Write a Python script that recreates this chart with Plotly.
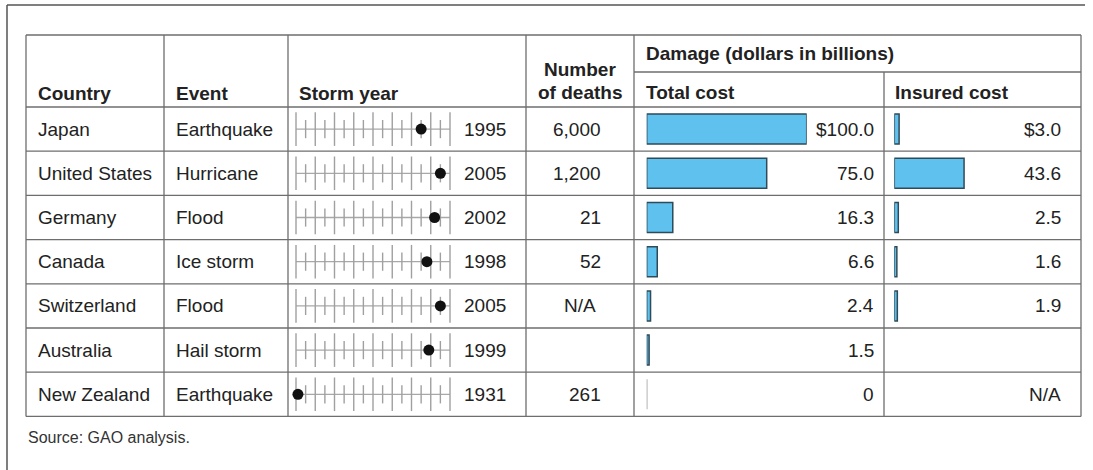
import plotly.graph_objects as go

# ---------------- data ----------------
countries = ["Japan", "United States", "Germany", "Canada", "Switzerland", "Australia", "New Zealand"]
events = ["Earthquake", "Hurricane", "Flood", "Ice storm", "Flood", "Hail storm", "Earthquake"]
storm_years = [1995, 2005, 2002, 1998, 2005, 1999, 1931]
deaths = ["6,000", "1,200", "21", "52", "N/A", "", "261"]
total_cost = [100.0, 75.0, 16.3, 6.6, 2.4, 1.5, 0.0]
insured_cost = [3.0, 43.6, 2.5, 1.6, 1.9, None, None]
total_labels = ["$100.0", "75.0", "16.3", "6.6", "2.4", "1.5", "0"]
insured_labels = ["$3.0", "43.6", "2.5", "1.6", "1.9", "", "N/A"]
year_major_ticks = [1930, 1940, 1950, 1960, 1970, 1980, 1990, 2000, 2010]
year_minor_ticks = [1935, 1945, 1955, 1965, 1975, 1985, 1995, 2005]
year_range = [1930, 2010]

header_cols = ["Country", "Event", "Storm year"]
source_text = "Source: GAO analysis."

# ---------------- layout helpers ----------------
W, H = 1093, 470
def px(x):
    return x / W
def py(y):
    return 1 - y / H

FONT = "Liberation Sans, Arial, Helvetica, sans-serif"
TXT = "#222222"
GRID = "#6e6e6e"
n = len(countries)
rows = list(range(n))

top_row, bot_row = 107, 416.4
row_h = (bot_row - top_row) / n

fig = go.Figure()

# storm-year mini axes
line_x, line_y = [], []
for r in rows:
    line_x += [year_range[0], year_range[1], None]
    line_y += [r, r, None]
fig.add_trace(go.Scatter(x=line_x, y=line_y, mode="lines", xaxis="x", yaxis="y",
                         line=dict(color="#a8a8a8", width=1.3), hoverinfo="skip", showlegend=False,
                         cliponaxis=False))
maj_x, maj_y, min_x, min_y = [], [], [], []
for r in rows:
    maj_x += year_major_ticks
    maj_y += [r] * len(year_major_ticks)
    min_x += year_minor_ticks
    min_y += [r] * len(year_minor_ticks)
fig.add_trace(go.Scatter(x=maj_x, y=maj_y, mode="markers", xaxis="x", yaxis="y", cliponaxis=False,
                         marker=dict(symbol="line-ns", size=24, line=dict(color="#a0a0a0", width=1.4)),
                         hoverinfo="skip", showlegend=False))
fig.add_trace(go.Scatter(x=min_x, y=min_y, mode="markers", xaxis="x", yaxis="y", cliponaxis=False,
                         marker=dict(symbol="line-ns", size=13, line=dict(color="#a0a0a0", width=1.4)),
                         hoverinfo="skip", showlegend=False))
fig.add_trace(go.Scatter(x=storm_years, y=rows, mode="markers", xaxis="x", yaxis="y", cliponaxis=False,
                         marker=dict(color="#111111", size=11), showlegend=False))

# bars
bar_w = 30 / row_h
fig.add_trace(go.Bar(x=total_cost, y=rows, orientation="h", xaxis="x2", yaxis="y", width=bar_w,
                     cliponaxis=False,
                     marker=dict(color="#5ec1ee",
                                 line=dict(color=["#9a9a9a" if v == 0 else "#2f4a58" for v in total_cost], width=1.5)),
                     showlegend=False))
fig.add_trace(go.Bar(x=insured_cost, y=rows, orientation="h", xaxis="x3", yaxis="y", width=bar_w,
                     cliponaxis=False,
                     marker=dict(color="#5ec1ee", line=dict(color="#2f4a58", width=1.5)),
                     showlegend=False))

# ---------------- grid shapes ----------------
shapes = []
def hline(y, x0, x1, color=GRID, w=1.3):
    shapes.append(dict(type="line", xref="paper", yref="paper", x0=px(x0), x1=px(x1), y0=py(y), y1=py(y),
                       line=dict(color=color, width=w)))
def vline(x, y0, y1, color=GRID, w=1.3):
    shapes.append(dict(type="line", xref="paper", yref="paper", x0=px(x), x1=px(x), y0=py(y0), y1=py(y1),
                       line=dict(color=color, width=w)))

L, R, T = 26, 1081, 35
# outer frame (top + left)
hline(5, 7, 1085, color="#555555", w=1.5)
vline(7, 5, 470, color="#555555", w=1.5)
# table
hline(T, L, R)
hline(72, 634, R)
for i in range(n + 1):
    hline(top_row + i * row_h, L, R)
for x in [L, 164, 288, 526, 634, R]:
    vline(x, T, bot_row)
vline(884, 72, bot_row)

# ---------------- annotations ----------------
ann = []
def text(x, y, s, anchor="left", bold=False, size=19, yref="paper", color=TXT):
    ann.append(dict(x=x, y=y, xref="paper", yref=yref, text=("<b>%s</b>" % s) if bold else s,
                    showarrow=False, xanchor=anchor, yanchor="middle",
                    font=dict(family=FONT, size=size, color=color)))

# headers
text(px(36), py(93), header_cols[0], bold=True)
text(px(174), py(93), header_cols[1], bold=True)
text(px(297), py(93), header_cols[2], bold=True)
text(px(580), py(69), "Number", anchor="center", bold=True)
text(px(580), py(92), "of deaths", anchor="center", bold=True)
text(px(644), py(53), "Damage (dollars in billions)", bold=True)
text(px(644), py(92), "Total cost", bold=True)
text(px(893), py(92), "Insured cost", bold=True)

for r in rows:
    text(px(36), r, countries[r], yref="y")
    text(px(174), r, events[r], yref="y")
    text(px(508), r, str(storm_years[r]), anchor="right", yref="y")
    if deaths[r] == "N/A":
        text(px(580), r, deaths[r], anchor="center", yref="y")
    elif deaths[r]:
        text(px(603), r, deaths[r], anchor="right", yref="y")
    text(px(876), r, total_labels[r], anchor="right", yref="y")
    if insured_labels[r]:
        text(px(1063), r, insured_labels[r], anchor="right", yref="y")

text(px(26), py(437), source_text, size=16, color="#333333")

# ---------------- axes ----------------
bar_px = 160.0
fig.update_layout(
    width=W, height=H, autosize=False,
    margin=dict(l=0, r=0, t=0, b=0),
    paper_bgcolor="white", plot_bgcolor="white",
    showlegend=False,
    xaxis=dict(domain=[px(296), px(450)], range=year_range, visible=False, anchor="y"),
    xaxis2=dict(domain=[px(646.7), px(646.7 + bar_px)], range=[0, 100], visible=False, anchor="y"),
    xaxis3=dict(domain=[px(894.3), px(894.3 + bar_px)], range=[0, 100], visible=False, anchor="y"),
    yaxis=dict(domain=[py(bot_row), py(top_row)], range=[n - 0.5, -0.5], visible=False),
    shapes=shapes,
    annotations=ann,
)

fig.write_html("out.html", config={"displayModeBar": False},
               post_script="document.body.style.margin='0';document.body.style.overflow='hidden';")
